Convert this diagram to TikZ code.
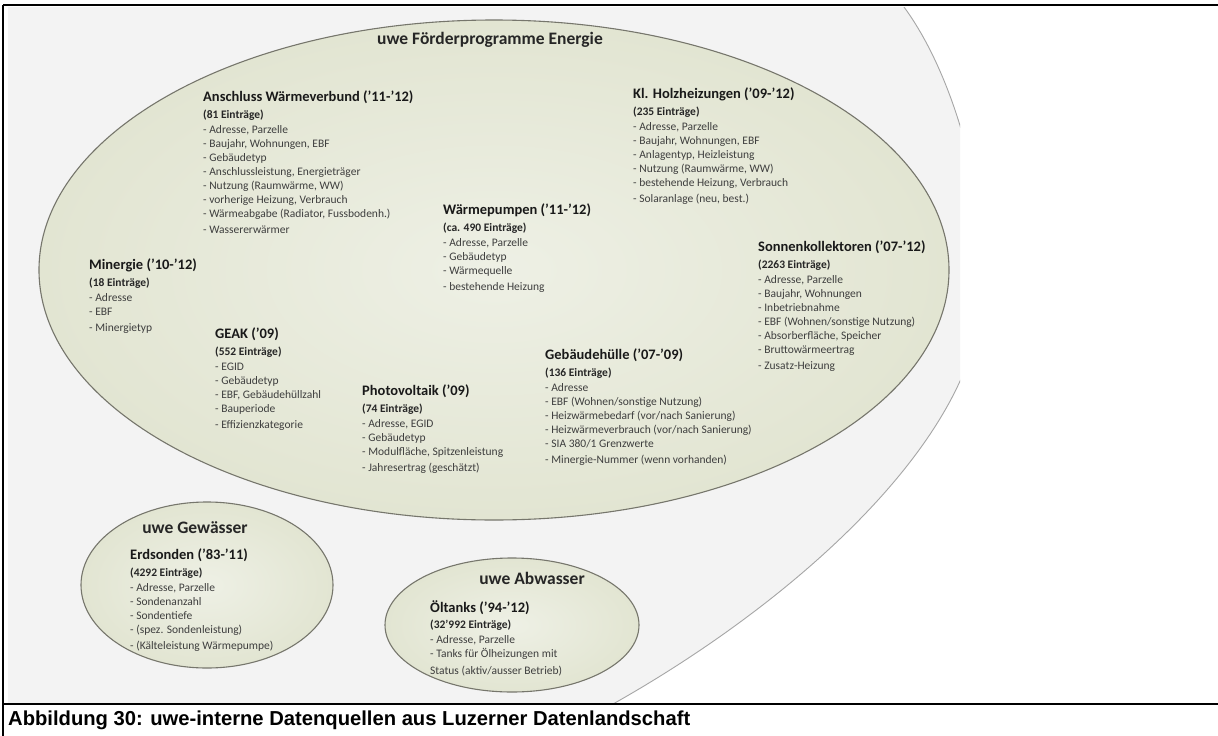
\documentclass[tikz,border=0pt]{standalone}
\usepackage{fontspec}
\setmainfont{Carlito}
\newfontfamily\capfont{Liberation Sans}
\definecolor{sage}{RGB}{226,229,210}
\definecolor{sagelight}{RGB}{238,240,229}
\definecolor{sagedraw}{RGB}{118,118,108}
\definecolor{paleground}{RGB}{243,243,243}
\definecolor{itemgray}{RGB}{62,62,62}
\tikzset{
every node/.style={inner sep=0pt}, % text sits right on its anchor
pool/.style={draw=sagedraw, line width=1.1pt, inner color=sagelight, outer color=sage}, % the green data pools
group/.style={font=\fontsize{17.5}{20}\selectfont\bfseries, text=black!85}, % pool headings
source/.style={anchor=north west, align=left, text=itemgray, font=\fontsize{11.5}{14}\selectfont}, % one data source with its fields
}
\newcommand{\srctitle}[1]{{\fontsize{14.5}{17}\selectfont\bfseries\color{black!90}#1}}
\newcommand{\srccount}[1]{\textbf{\color{black!85}#1}}

\begin{document}
\begin{tikzpicture}[x=1pt,y=-1pt]
      \useasboundingbox (0,0) rectangle (1218,736);

      % outer pool, cut by the picture frame
      \begin{scope}
        \clip (8,7) rectangle (960,704);
        \fill[white] (8,7) rectangle (960,704);
        \fill[paleground] (8,7) -- (904,7) .. controls (965,90) and (1000,250) .. (975,340)
          .. controls (940,470) and (780,610) .. (613,704) -- (8,704) -- cycle;
        \draw[gray!70, line width=0.9pt] (904,7) .. controls (965,90) and (1000,250) .. (975,340)
          .. controls (940,470) and (780,610) .. (613,704);
      \end{scope}

      % frame and caption
      \draw[line width=1.3pt] (3,5) -- (958,5);
      \draw[line width=2pt] (958,5) -- (1218,5);
      \draw[line width=1.5pt] (3,5) -- (3,736);
      \draw[line width=1.5pt] (3,704) -- (1218,704);
      \node[anchor=west, font=\capfont\bfseries\fontsize{20.2}{23}\selectfont] (caption) at (8,720) {Abbildung 30: uwe-interne Datenquellen aus Luzerner Datenlandschaft};

      % pools
      \draw[pool] (494,270) ellipse [x radius=455, y radius=250];
      \draw[pool] (207,585) ellipse [x radius=126, y radius=83];
      \draw[pool] (512,625) ellipse [x radius=127, y radius=67];

      \node[group] (energie) at (490,40) {uwe Förderprogramme Energie};
      \node[group] (gewaesser) at (195,528) {uwe Gewässer};
      \node[group] (abwasser) at (532,578) {uwe Abwasser};

      % Energie
      \node[source] (anschluss) at (203,91) {\srctitle{Anschluss Wärmeverbund (’11-’12)}\\[2.5pt]
        \srccount{(81 Einträge)}\\[1pt]
        - Adresse, Parzelle\\
        - Baujahr, Wohnungen, EBF\\
        - Gebäudetyp\\
        - Anschlussleistung, Energieträger\\
        - Nutzung (Raumwärme, WW)\\
        - vorherige Heizung, Verbrauch\\
        - Wärmeabgabe (Radiator, Fussbodenh.)\\[2.5pt]
        - Wassererwärmer};
      \node[source] (holz) at (633,88) {\srctitle{Kl. Holzheizungen (’09-’12)}\\[2.5pt]
        \srccount{(235 Einträge)}\\[1pt]
        - Adresse, Parzelle\\
        - Baujahr, Wohnungen, EBF\\
        - Anlagentyp, Heizleistung\\
        - Nutzung (Raumwärme, WW)\\
        - bestehende Heizung, Verbrauch\\[2.5pt]
        - Solaranlage (neu, best.)};
      \node[source] (pumpen) at (443,204) {\srctitle{Wärmepumpen (’11-’12)}\\[2.5pt]
        \srccount{(ca. 490 Einträge)}\\[1pt]
        - Adresse, Parzelle\\
        - Gebäudetyp\\
        - Wärmequelle\\[2.5pt]
        - bestehende Heizung};
      \node[source] (minergie) at (89,259) {\srctitle{Minergie (’10-’12)}\\[2.5pt]
        \srccount{(18 Einträge)}\\[1pt]
        - Adresse\\
        - EBF\\[2.5pt]
        - Minergietyp};
      \node[source] (sonne) at (758,241) {\srctitle{Sonnenkollektoren (’07-’12)}\\[2.5pt]
        \srccount{(2263 Einträge)}\\[1pt]
        - Adresse, Parzelle\\
        - Baujahr, Wohnungen\\
        - Inbetriebnahme\\
        - EBF (Wohnen/sonstige Nutzung)\\
        - Absorberfläche, Speicher\\
        - Bruttowärmeertrag\\[2.5pt]
        - Zusatz-Heizung};
      \node[source] (geak) at (215,328) {\srctitle{GEAK (’09)}\\[2.5pt]
        \srccount{(552 Einträge)}\\[1pt]
        - EGID\\
        - Gebäudetyp\\
        - EBF, Gebäudehüllzahl\\
        - Bauperiode\\[2.5pt]
        - Effizienzkategorie};
      \node[source] (photo) at (362,385) {\srctitle{Photovoltaik (’09)}\\[2.5pt]
        \srccount{(74 Einträge)}\\[1pt]
        - Adresse, EGID\\
        - Gebäudetyp\\
        - Modulfläche, Spitzenleistung\\[2.5pt]
        - Jahresertrag (geschätzt)};
      \node[source] (huelle) at (545,349) {\srctitle{Gebäudehülle (’07-’09)}\\[2.5pt]
        \srccount{(136 Einträge)}\\[1pt]
        - Adresse\\
        - EBF (Wohnen/sonstige Nutzung)\\
        - Heizwärmebedarf (vor/nach Sanierung)\\
        - Heizwärmeverbrauch (vor/nach Sanierung)\\
        - SIA 380/1 Grenzwerte\\[2.5pt]
        - Minergie-Nummer (wenn vorhanden)};

      % Gewässer
      \node[source] (erdsonden) at (130,549) {\srctitle{Erdsonden (’83-’11)}\\[2.5pt]
        \srccount{(4292 Einträge)}\\[1pt]
        - Adresse, Parzelle\\
        - Sondenanzahl\\
        - Sondentiefe\\
        - (spez. Sondenleistung)\\[2.5pt]
        - (Kälteleistung Wärmepumpe)};

      % Abwasser
      \node[source] (oeltanks) at (430,600) {\srctitle{Öltanks (’94-’12)}\\[2.5pt]
        \srccount{(32’992 Einträge)}\\[1pt]
        - Adresse, Parzelle\\
        - Tanks für Ölheizungen mit\\[2.5pt]
        Status (aktiv/ausser Betrieb)};
    \end{tikzpicture}
\end{document}
